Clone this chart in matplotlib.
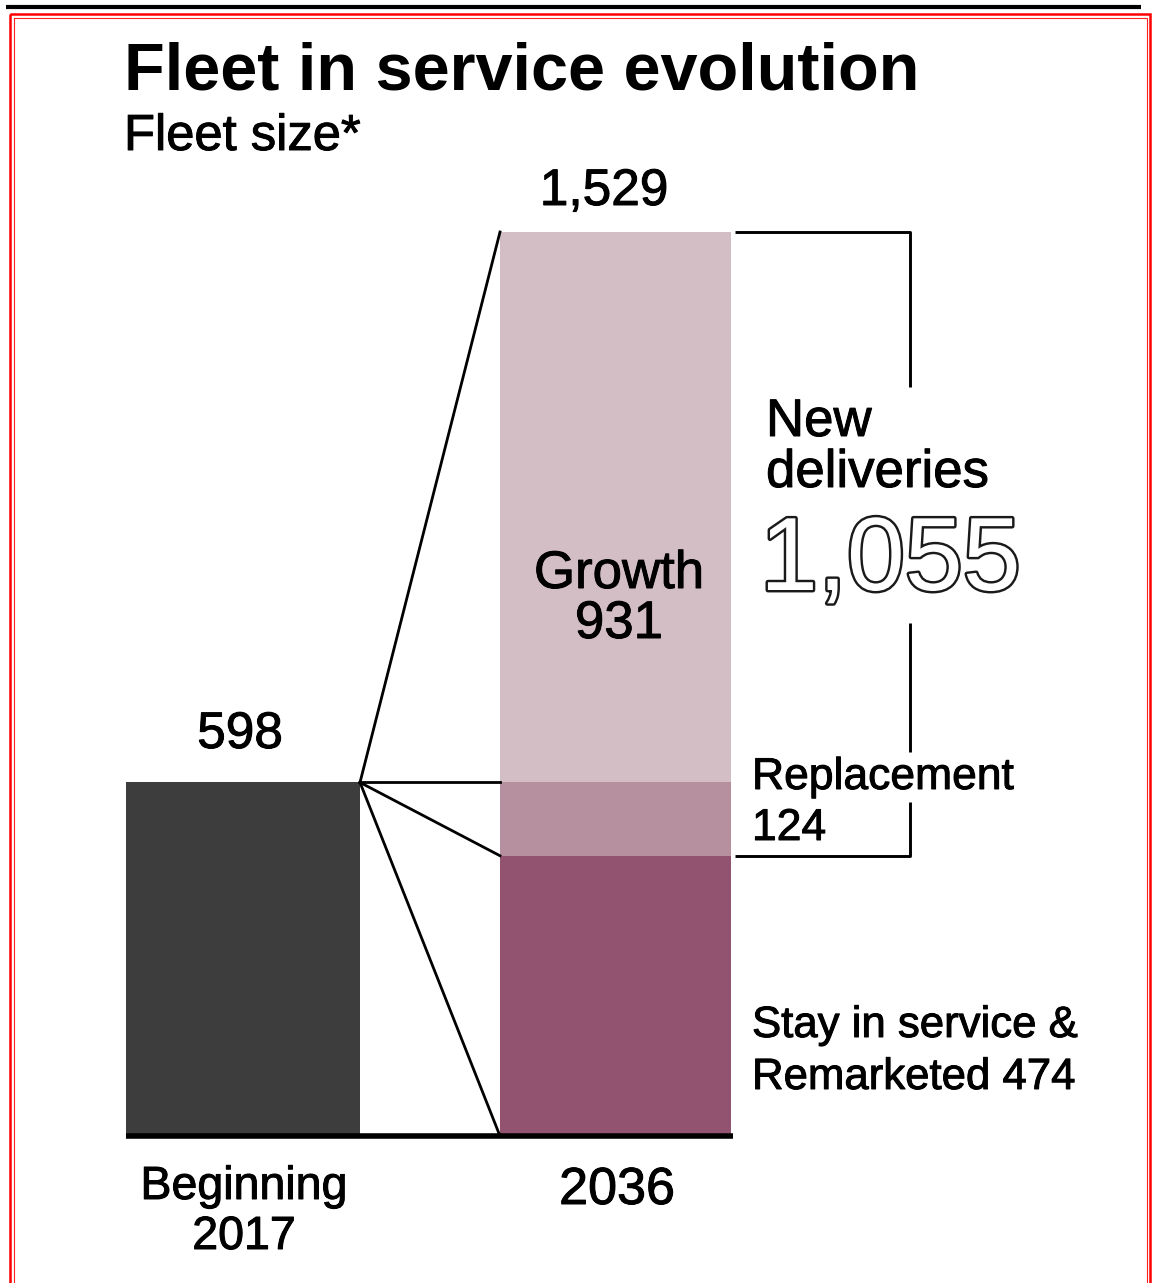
import matplotlib

matplotlib.use("Agg")

import matplotlib.pyplot as plt
import matplotlib.patheffects as pe
from matplotlib.patches import Rectangle

plt.rcParams["font.family"] = ["Liberation Sans", "DejaVu Sans"]

# fleet sizes
start_label = ["Beginning", "2017"]
end_label = "2036"
start_fleet = 598
segments = ["Stay in service & Remarketed", "Replacement", "Growth"]
segment_values = [474, 124, 931]
segment_colors = ["#925370", "#b7909f", "#d3bec6"]
end_fleet = sum(segment_values)                          # 1,529
new_deliveries = segment_values[1] + segment_values[2]   # 1,055

W, H = 1152, 1283
fig = plt.figure(figsize=(W / 100, H / 100), dpi=100)

# value axes: x in pixels, y in fleet units
base_px, top_px = 1136, 232
scale = (base_px - top_px) / end_fleet
ax = fig.add_axes([0, 0, 1, 1])
ax.set_xlim(0, W)
ax.set_ylim(-(H - base_px) / scale, base_px / scale)
ax.axis("off")


def to_val(py):
    return (base_px - py) / scale


# pixel overlay for frame and text, drawn above the bars
ov = fig.add_axes([0, 0, 1, 1])
ov.set_xlim(0, W)
ov.set_ylim(H, 0)
ov.axis("off")

# frame
ov.plot([6, 1141], [7, 7], color="black", lw=3, solid_capstyle="butt")
ov.add_patch(Rectangle((9.5, 13.5), 1140.5, 1300, fill=False, ec="#ff0000", lw=1.8))
ov.add_patch(Rectangle((13.5, 18), 1133, 1300, fill=False, ec="#ff2020", lw=0.8))

# bars
left_x, left_w = 243, 234
right_x, right_w = 615.5, 231
ax.bar(left_x, start_fleet, width=left_w, color="#3d3d3d", zorder=2)
bottom = 0
for val, col in zip(segment_values, segment_colors):
    ax.bar(right_x, val, width=right_w, bottom=bottom, color=col, zorder=2)
    bottom += val

# baseline
ax.plot([left_x - left_w / 2, right_x + right_w / 2 + 2], [0, 0],
        color="black", lw=4, solid_capstyle="butt", zorder=3)

# connectors from the 2017 bar to each stack boundary
lx = left_x + left_w / 2
rx = right_x - right_w / 2
levels = [0, segment_values[0], segment_values[0] + segment_values[1], end_fleet]
for lv in levels:
    ax.plot([lx, rx], [start_fleet, lv], color="black", lw=2, zorder=4)

# bracket around new deliveries, broken where the labels sit
bx0, bx1 = right_x + right_w / 2 + 4, 910
b_top, b_bot = end_fleet, segment_values[0]
kw = dict(color="black", lw=2.1, solid_capstyle="butt")
ax.plot([bx0, bx1, bx1], [b_top, b_top, to_val(387)], **kw)
ax.plot([bx1, bx1], [to_val(623), to_val(752)], **kw)
ax.plot([bx1, bx1, bx0], [to_val(802), b_bot, b_bot], **kw)

# slightly heavier regular text
heavy = [pe.withStroke(linewidth=0.7, foreground="black")]


def lines(x, y0, rows, size, dy, ha="left"):
    for i, row in enumerate(rows):
        ov.text(x, y0 + i * dy, row, fontsize=size, ha=ha, va="baseline",
                path_effects=heavy)


ov.text(124, 89, "Fleet in service evolution", fontsize=48, fontweight="bold",
        va="baseline")
lines(124, 150, ["Fleet size*"], 36.5, 0)

lines(604, 205, [f"{end_fleet:,}"], 37, 0, ha="center")
lines(240, 748, [f"{start_fleet:,}"], 37, 0, ha="center")
lines(619, 588, ["Growth", f"{segment_values[2]:,}"], 38, 50, ha="center")
lines(766, 436, ["New", "deliveries"], 38, 51)
ov.text(760, 590, f"{new_deliveries:,}", fontsize=75, color="white",
        va="baseline",
        path_effects=[pe.withStroke(linewidth=3.5, foreground="#1a1a1a")])
lines(752, 789, ["Replacement", f"{segment_values[1]:,}"], 32, 51)
lines(752, 1037, ["Stay in service &", f"Remarketed {segment_values[0]:,}"], 31.5, 52)
lines(244, 1199, start_label, 33.5, 50, ha="center")
lines(617, 1204, [end_label], 37.5, 0, ha="center")

fig.savefig("out.png", dpi=100, facecolor="white")
